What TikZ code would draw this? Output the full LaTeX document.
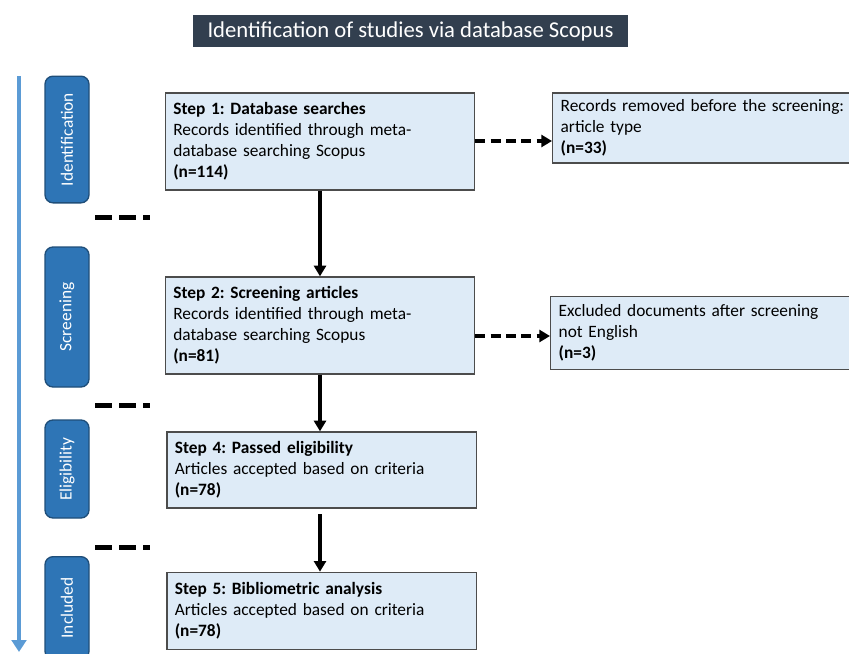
\documentclass[tikz,border=0pt]{standalone}
\usepackage{fontspec}
\setmainfont{Carlito}
\usetikzlibrary{arrows.meta}
\definecolor{titlebg}{HTML}{323F4F}
\definecolor{phasebg}{HTML}{2E75B6}
\definecolor{phaseline}{HTML}{1F4E79}
\definecolor{stepbg}{HTML}{DEEBF7}
\definecolor{timeline}{HTML}{5B9BD5}
\frenchspacing
\begin{document}
\begin{tikzpicture}[x=0.75pt,y=-0.75pt,>={Triangle[width=9pt,length=8pt]},
	stepbox/.style={draw=black!70,fill=stepbg,line width=1pt,rectangle,align=left,inner xsep=6pt,text width=220pt,font=\fontsize{13}{15.75}\selectfont},
	sidebox/.style={stepbox,anchor=west,text width=240pt},
	phase/.style={draw=phaseline,fill=phasebg,line width=1pt,rounded corners=6pt,rotate=90,text=white,minimum height=33pt,font=\fontsize{13}{15}\selectfont},
	sep/.style={line width=3.75pt,dash pattern=on 13pt off 5pt},
	flow/.style={->,line width=2.5pt},
	drop/.style={->,line width=2.5pt,dash pattern=on 7.5pt off 4pt}]
	\useasboundingbox (0,0) rectangle (849,653);
	
	% titel
	\node[fill=titlebg,text=white,minimum width=326pt,minimum height=24pt,font=\fontsize{17}{19}\selectfont] (title) at (410.5,31) {Identification of studies via database Scopus};
	
	% idovonal
	\coordinate (tltop) at (19,76);
	\coordinate (tlend) at (19,652);
	\draw[->,timeline,line width=3pt,>={Triangle[width=11pt,length=9pt]}] (tltop) -- (tlend);
	
	% fazisok
	\node[phase,minimum width=95pt] (ident) at (67,139.5) {Identification};
	\node[phase,minimum width=105pt] (screen) at (67,317) {Screening};
	\node[phase,minimum width=73.5pt] (elig) at (67,469) {Eligibility};
	\node[phase,minimum width=77pt] (incl) at (67,608) {Included};
	
	% szaggatott elvalasztok
	\foreach \y in {217,405,547}
		\draw[sep] (95,\y) -- (150,\y);
	
	% lepesek
	\node[stepbox,minimum height=72.75pt] (step1) at (320,141.5) {\textbf{Step 1: Database searches}\\Records identified through meta-\\database searching Scopus\\\textbf{(n=114)}};
	\node[stepbox,minimum height=72.75pt] (step2) at (320,325.5) {\textbf{Step 2: Screening articles}\\Records identified through meta-\\database searching Scopus\\\textbf{(n=81)}};
	\node[stepbox,minimum height=57pt] (step4) at (321.5,470) {\textbf{Step 4: Passed eligibility}\\Articles accepted based on criteria\\\textbf{(n=78)}};
	\node[stepbox,minimum height=58pt] (step5) at (321.5,611) {\textbf{Step 5: Bibliometric analysis}\\Articles accepted based on criteria\\\textbf{(n=78)}};
	
	% kizart rekordok
	\node[sidebox,minimum height=52.5pt] (removed) at (552,128) {Records removed before the screening:\\article type\\\textbf{(n=33)}};
	\node[sidebox,minimum height=55pt] (excluded) at (550,333) {Excluded documents after screening\\not English\\\textbf{(n=3)}};
	
	% nyilak
	\draw[flow] (step1.south -| 320,0) -- (step2.north -| 320,0);
	\draw[flow] (step2.south -| 320,0) -- (step4.north -| 320,0);
	\draw[flow,shorten <=4pt] (step4.south -| 320,0) -- (step5.north -| 320,0);
	\draw[drop] (step1.east |- 0,141) -- (removed.west |- 0,141);
	\draw[drop] (step2.east |- 0,336) -- (excluded.west |- 0,336);
\end{tikzpicture}
\end{document}
